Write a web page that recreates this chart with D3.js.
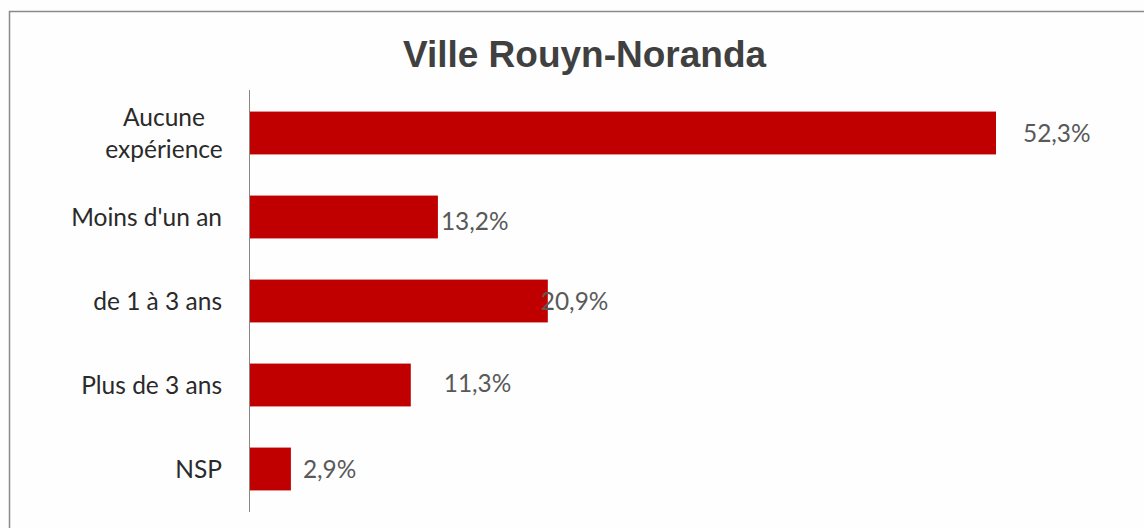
<!DOCTYPE html>
<html><head><meta charset="utf-8">
<script src="https://cdn.jsdelivr.net/npm/d3@7"></script>
<style>html,body{margin:0;padding:0;background:#fefefe;}svg{display:block;}</style>
</head><body>
<svg id="c" width="1144" height="528"></svg>
<script>
const title = "Ville Rouyn-Noranda";
const categories = [["Aucune","expérience"],["Moins d'un an"],["de 1 à 3 ans"],["Plus de 3 ans"],["NSP"]];
const values = [52.3, 13.2, 20.9, 11.3, 2.9];
const valueLabels = ["52,3%","13,2%","20,9%","11,3%","2,9%"];

const svg = d3.select("#c");
// frame (left + top edges visible)
svg.append("path").attr("d","M9.5,528 L9.5,11.5 L1144,11.5").attr("fill","none").attr("stroke","#8a8a8a").attr("stroke-width",1.5);

svg.append("text").attr("x",584.5).attr("y",66.5).attr("text-anchor","middle")
  .attr("font-family","Liberation Sans, Arial, sans-serif").attr("font-weight","bold")
  .attr("font-size",37).attr("fill","#404040").text(title);

const x = d3.scaleLinear().domain([0,60]).range([249.5, 249.5 + 746.5/52.3*60]);
const y = d3.scaleBand().domain(d3.range(values.length)).range([91,511]).paddingInner(0.49).paddingOuter(0.245);

svg.selectAll("rect.bar").data(values).join("rect").attr("class","bar")
  .attr("x", x(0)).attr("y",(d,i)=>y(i)).attr("width",d=>x(d)-x(0)).attr("height",y.bandwidth())
  .attr("fill","#c00000");

// axis
const yAxis = d3.axisLeft(y).tickSize(0).tickFormat("");
const ga = svg.append("g").attr("transform",`translate(${x(0)},0)`).call(yAxis);
ga.select(".domain").attr("stroke","#868686").attr("stroke-width",1).attr("d","M0,90V512");

const font = "Lato, 'Open Sans', sans-serif";
// category labels
categories.forEach((lines,i)=>{
  const cy = y(i) + y.bandwidth()/2;
  const n = lines.length, lh = 32;
  const t = svg.append("text").attr("font-family",font).attr("font-size",24.5).attr("fill","#2a2a2a")
    .attr("text-anchor", n>1 ? "middle":"end");
  lines.forEach((ln,k)=>{
    t.append("tspan").attr("x", n>1 ? 164 : 222).attr("y", cy + (k-(n-1)/2)*lh).attr("dy","0.35em").text(ln);
  });
});

// value labels (manually nudged as in the reference)
const labelDx = [27, 3, -7, 33, 12];
const labelDy = [0, 4, 0, -2, 0];
svg.selectAll("text.val").data(values).join("text").attr("class","val")
  .attr("x",(d,i)=>x(d)+labelDx[i]).attr("y",(d,i)=>y(i)+y.bandwidth()/2+labelDy[i]).attr("dy","0.35em")
  .attr("font-family",font).attr("font-size",24.4).attr("fill","#595959")
  .text((d,i)=>valueLabels[i]);
</script>
</body></html>
